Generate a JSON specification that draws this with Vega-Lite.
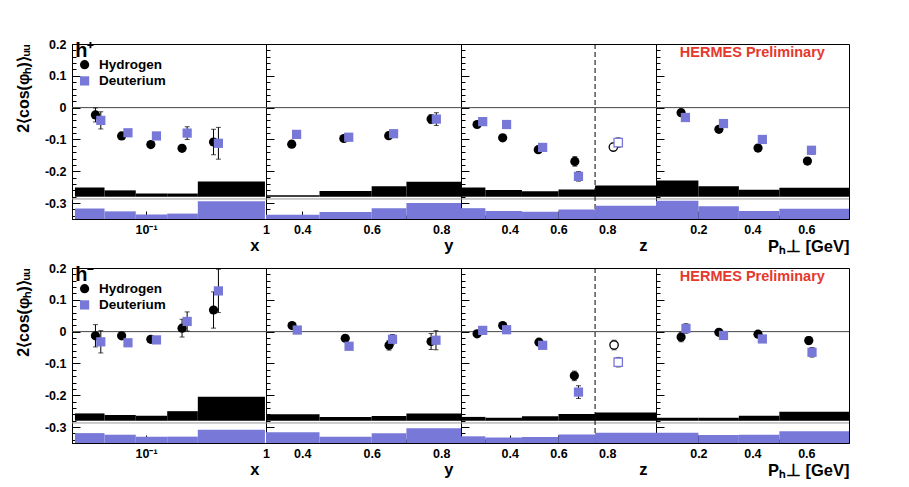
{
"$schema": "https://vega.github.io/schema/vega-lite/v6.json",
"background": "white",
"padding": {"left": 14, "top": 37, "right": 0, "bottom": 0},
"autosize": {"type": "pad"},
"columns": 4,
"spacing": {"row": 49, "column": 0},
"bounds": "flush",
"datasets": {"d": [
{"k":"ref","v":"x","h":"h+"},{"k":"ref","v":"x","h":"h-"},{"k":"ref","v":"y","h":"h+"},{"k":"ref","v":"y","h":"h-"},
{"k":"ref","v":"z","h":"h+"},{"k":"ref","v":"z","h":"h-"},{"k":"ref","v":"p","h":"h+"},{"k":"ref","v":"p","h":"h-"},
{"k":"hl","v":"x","h":"h+","x":0.0256,"y":0.178,"text":"h⁺"},
{"k":"hl","v":"x","h":"h-","x":0.0256,"y":0.178,"text":"h⁻"},
{"k":"leg","v":"x","h":"h+","t":"Hydrogen","x":0.0307,"tx":0.0405,"y":0.135,"text":"Hydrogen"},
{"k":"leg","v":"x","h":"h+","t":"Deuterium","x":0.0307,"tx":0.0405,"y":0.084,"text":"Deuterium"},
{"k":"leg","v":"x","h":"h-","t":"Hydrogen","x":0.0307,"tx":0.0405,"y":0.135,"text":"Hydrogen"},
{"k":"leg","v":"x","h":"h-","t":"Deuterium","x":0.0307,"tx":0.0405,"y":0.084,"text":"Deuterium"},
{"k":"herm","v":"p","h":"h+","x":0.4,"y":0.173,"text":"HERMES Preliminary"},
{"k":"herm","v":"p","h":"h-","x":0.4,"y":0.173,"text":"HERMES Preliminary"},
{"k":"pt","v":"x","h":"h+","t":"Hydrogen","x":0.0378,"y":-0.023,"e":0.022,"o":false},
{"k":"pt","v":"x","h":"h+","t":"Hydrogen","x":0.0625,"y":-0.089,"e":0.006,"o":false},
{"k":"pt","v":"x","h":"h+","t":"Hydrogen","x":0.1095,"y":-0.116,"e":0.006,"o":false},
{"k":"pt","v":"x","h":"h+","t":"Hydrogen","x":0.1995,"y":-0.128,"e":0.008,"o":false},
{"k":"pt","v":"x","h":"h+","t":"Hydrogen","x":0.365,"y":-0.108,"e":0.04,"o":false},
{"k":"pt","v":"x","h":"h+","t":"Deuterium","x":0.0419,"y":-0.04,"e":0.027,"o":false},
{"k":"pt","v":"x","h":"h+","t":"Deuterium","x":0.0706,"y":-0.079,"e":0.006,"o":false},
{"k":"pt","v":"x","h":"h+","t":"Deuterium","x":0.122,"y":-0.089,"e":0.007,"o":false},
{"k":"pt","v":"x","h":"h+","t":"Deuterium","x":0.22,"y":-0.08,"e":0.02,"o":false},
{"k":"pt","v":"x","h":"h+","t":"Deuterium","x":0.401,"y":-0.112,"e":0.05,"o":false},
{"k":"pt","v":"y","h":"h+","t":"Hydrogen","x":0.37,"y":-0.115,"e":0.006,"o":false},
{"k":"pt","v":"y","h":"h+","t":"Hydrogen","x":0.52,"y":-0.097,"e":0.006,"o":false},
{"k":"pt","v":"y","h":"h+","t":"Hydrogen","x":0.649,"y":-0.088,"e":0.007,"o":false},
{"k":"pt","v":"y","h":"h+","t":"Hydrogen","x":0.771,"y":-0.036,"e":0.014,"o":false},
{"k":"pt","v":"y","h":"h+","t":"Deuterium","x":0.384,"y":-0.084,"e":0.006,"o":false},
{"k":"pt","v":"y","h":"h+","t":"Deuterium","x":0.534,"y":-0.093,"e":0.006,"o":false},
{"k":"pt","v":"y","h":"h+","t":"Deuterium","x":0.663,"y":-0.082,"e":0.008,"o":false},
{"k":"pt","v":"y","h":"h+","t":"Deuterium","x":0.786,"y":-0.036,"e":0.02,"o":false},
{"k":"pt","v":"z","h":"h+","t":"Hydrogen","x":0.266,"y":-0.053,"e":0.006,"o":false},
{"k":"pt","v":"z","h":"h+","t":"Hydrogen","x":0.371,"y":-0.095,"e":0.006,"o":false},
{"k":"pt","v":"z","h":"h+","t":"Hydrogen","x":0.517,"y":-0.132,"e":0.008,"o":false},
{"k":"pt","v":"z","h":"h+","t":"Hydrogen","x":0.667,"y":-0.169,"e":0.015,"o":false},
{"k":"pt","v":"z","h":"h+","t":"Hydrogen","x":0.825,"y":-0.124,"e":0.012,"o":true},
{"k":"pt","v":"z","h":"h+","t":"Deuterium","x":0.289,"y":-0.044,"e":0.006,"o":false},
{"k":"pt","v":"z","h":"h+","t":"Deuterium","x":0.387,"y":-0.053,"e":0.006,"o":false},
{"k":"pt","v":"z","h":"h+","t":"Deuterium","x":0.535,"y":-0.125,"e":0.008,"o":false},
{"k":"pt","v":"z","h":"h+","t":"Deuterium","x":0.682,"y":-0.216,"e":0.015,"o":false},
{"k":"pt","v":"z","h":"h+","t":"Deuterium","x":0.845,"y":-0.11,"e":0.015,"o":true},
{"k":"pt","v":"p","h":"h+","t":"Hydrogen","x":0.136,"y":-0.016,"e":0.007,"o":false},
{"k":"pt","v":"p","h":"h+","t":"Hydrogen","x":0.276,"y":-0.068,"e":0.006,"o":false},
{"k":"pt","v":"p","h":"h+","t":"Hydrogen","x":0.421,"y":-0.127,"e":0.007,"o":false},
{"k":"pt","v":"p","h":"h+","t":"Hydrogen","x":0.604,"y":-0.168,"e":0.01,"o":false},
{"k":"pt","v":"p","h":"h+","t":"Deuterium","x":0.152,"y":-0.031,"e":0.008,"o":false},
{"k":"pt","v":"p","h":"h+","t":"Deuterium","x":0.293,"y":-0.05,"e":0.006,"o":false},
{"k":"pt","v":"p","h":"h+","t":"Deuterium","x":0.437,"y":-0.1,"e":0.007,"o":false},
{"k":"pt","v":"p","h":"h+","t":"Deuterium","x":0.619,"y":-0.134,"e":0.012,"o":false},
{"k":"pt","v":"x","h":"h-","t":"Hydrogen","x":0.0378,"y":-0.013,"e":0.035,"o":false},
{"k":"pt","v":"x","h":"h-","t":"Hydrogen","x":0.0625,"y":-0.013,"e":0.007,"o":false},
{"k":"pt","v":"x","h":"h-","t":"Hydrogen","x":0.1095,"y":-0.024,"e":0.007,"o":false},
{"k":"pt","v":"x","h":"h-","t":"Hydrogen","x":0.1995,"y":0.011,"e":0.028,"o":false},
{"k":"pt","v":"x","h":"h-","t":"Hydrogen","x":0.365,"y":0.068,"e":0.057,"o":false},
{"k":"pt","v":"x","h":"h-","t":"Deuterium","x":0.0419,"y":-0.032,"e":0.035,"o":false},
{"k":"pt","v":"x","h":"h-","t":"Deuterium","x":0.0706,"y":-0.035,"e":0.007,"o":false},
{"k":"pt","v":"x","h":"h-","t":"Deuterium","x":0.122,"y":-0.026,"e":0.008,"o":false},
{"k":"pt","v":"x","h":"h-","t":"Deuterium","x":0.22,"y":0.032,"e":0.03,"o":false},
{"k":"pt","v":"x","h":"h-","t":"Deuterium","x":0.401,"y":0.128,"e":0.068,"o":false},
{"k":"pt","v":"y","h":"h-","t":"Hydrogen","x":0.371,"y":0.019,"e":0.006,"o":false},
{"k":"pt","v":"y","h":"h-","t":"Hydrogen","x":0.524,"y":-0.021,"e":0.007,"o":false},
{"k":"pt","v":"y","h":"h-","t":"Hydrogen","x":0.65,"y":-0.043,"e":0.015,"o":false},
{"k":"pt","v":"y","h":"h-","t":"Hydrogen","x":0.771,"y":-0.031,"e":0.025,"o":false},
{"k":"pt","v":"y","h":"h-","t":"Deuterium","x":0.386,"y":0.005,"e":0.006,"o":false},
{"k":"pt","v":"y","h":"h-","t":"Deuterium","x":0.535,"y":-0.046,"e":0.007,"o":false},
{"k":"pt","v":"y","h":"h-","t":"Deuterium","x":0.66,"y":-0.024,"e":0.015,"o":false},
{"k":"pt","v":"y","h":"h-","t":"Deuterium","x":0.785,"y":-0.027,"e":0.03,"o":false},
{"k":"pt","v":"z","h":"h-","t":"Hydrogen","x":0.266,"y":-0.007,"e":0.006,"o":false},
{"k":"pt","v":"z","h":"h-","t":"Hydrogen","x":0.371,"y":0.019,"e":0.006,"o":false},
{"k":"pt","v":"z","h":"h-","t":"Hydrogen","x":0.52,"y":-0.033,"e":0.008,"o":false},
{"k":"pt","v":"z","h":"h-","t":"Hydrogen","x":0.665,"y":-0.139,"e":0.015,"o":false},
{"k":"pt","v":"z","h":"h-","t":"Hydrogen","x":0.828,"y":-0.042,"e":0.015,"o":true},
{"k":"pt","v":"z","h":"h-","t":"Deuterium","x":0.289,"y":0.004,"e":0.006,"o":false},
{"k":"pt","v":"z","h":"h-","t":"Deuterium","x":0.387,"y":0.006,"e":0.006,"o":false},
{"k":"pt","v":"z","h":"h-","t":"Deuterium","x":0.535,"y":-0.043,"e":0.008,"o":false},
{"k":"pt","v":"z","h":"h-","t":"Deuterium","x":0.682,"y":-0.19,"e":0.02,"o":false},
{"k":"pt","v":"z","h":"h-","t":"Deuterium","x":0.845,"y":-0.096,"e":0.015,"o":true},
{"k":"pt","v":"p","h":"h-","t":"Hydrogen","x":0.136,"y":-0.017,"e":0.015,"o":false},
{"k":"pt","v":"p","h":"h-","t":"Hydrogen","x":0.276,"y":-0.002,"e":0.008,"o":false},
{"k":"pt","v":"p","h":"h-","t":"Hydrogen","x":0.421,"y":-0.008,"e":0.008,"o":false},
{"k":"pt","v":"p","h":"h-","t":"Hydrogen","x":0.609,"y":-0.028,"e":0.012,"o":false},
{"k":"pt","v":"p","h":"h-","t":"Deuterium","x":0.154,"y":0.01,"e":0.015,"o":false},
{"k":"pt","v":"p","h":"h-","t":"Deuterium","x":0.293,"y":-0.012,"e":0.008,"o":false},
{"k":"pt","v":"p","h":"h-","t":"Deuterium","x":0.437,"y":-0.023,"e":0.008,"o":false},
{"k":"pt","v":"p","h":"h-","t":"Deuterium","x":0.621,"y":-0.065,"e":0.015,"o":false},
{"k":"sys","v":"x","h":"h+","t":"Hydrogen","x":0.0255,"x2":0.045,"y":-0.28,"y2":-0.251},
{"k":"sys","v":"x","h":"h+","t":"Hydrogen","x":0.045,"x2":0.082,"y":-0.28,"y2":-0.26},
{"k":"sys","v":"x","h":"h+","t":"Hydrogen","x":0.082,"x2":0.15,"y":-0.28,"y2":-0.27},
{"k":"sys","v":"x","h":"h+","t":"Hydrogen","x":0.15,"x2":0.27,"y":-0.28,"y2":-0.27},
{"k":"sys","v":"x","h":"h+","t":"Hydrogen","x":0.27,"x2":0.98,"y":-0.28,"y2":-0.232},
{"k":"sys","v":"x","h":"h+","t":"Deuterium","x":0.0255,"x2":0.045,"y":-0.35,"y2":-0.317},
{"k":"sys","v":"x","h":"h+","t":"Deuterium","x":0.045,"x2":0.082,"y":-0.35,"y2":-0.326},
{"k":"sys","v":"x","h":"h+","t":"Deuterium","x":0.082,"x2":0.15,"y":-0.35,"y2":-0.336},
{"k":"sys","v":"x","h":"h+","t":"Deuterium","x":0.15,"x2":0.27,"y":-0.35,"y2":-0.333},
{"k":"sys","v":"x","h":"h+","t":"Deuterium","x":0.27,"x2":0.98,"y":-0.35,"y2":-0.294},
{"k":"sys","v":"y","h":"h+","t":"Hydrogen","x":0.296,"x2":0.45,"y":-0.28,"y2":-0.275},
{"k":"sys","v":"y","h":"h+","t":"Hydrogen","x":0.45,"x2":0.6,"y":-0.28,"y2":-0.262},
{"k":"sys","v":"y","h":"h+","t":"Hydrogen","x":0.6,"x2":0.7,"y":-0.28,"y2":-0.247},
{"k":"sys","v":"y","h":"h+","t":"Hydrogen","x":0.7,"x2":0.857,"y":-0.28,"y2":-0.233},
{"k":"sys","v":"y","h":"h+","t":"Deuterium","x":0.296,"x2":0.45,"y":-0.35,"y2":-0.337},
{"k":"sys","v":"y","h":"h+","t":"Deuterium","x":0.45,"x2":0.6,"y":-0.35,"y2":-0.328},
{"k":"sys","v":"y","h":"h+","t":"Deuterium","x":0.6,"x2":0.7,"y":-0.35,"y2":-0.316},
{"k":"sys","v":"y","h":"h+","t":"Deuterium","x":0.7,"x2":0.857,"y":-0.35,"y2":-0.3},
{"k":"sys","v":"z","h":"h+","t":"Hydrogen","x":0.2,"x2":0.3,"y":-0.28,"y2":-0.251},
{"k":"sys","v":"z","h":"h+","t":"Hydrogen","x":0.3,"x2":0.45,"y":-0.28,"y2":-0.259},
{"k":"sys","v":"z","h":"h+","t":"Hydrogen","x":0.45,"x2":0.6,"y":-0.28,"y2":-0.263},
{"k":"sys","v":"z","h":"h+","t":"Hydrogen","x":0.6,"x2":0.75,"y":-0.28,"y2":-0.257},
{"k":"sys","v":"z","h":"h+","t":"Hydrogen","x":0.75,"x2":1.0,"y":-0.28,"y2":-0.245},
{"k":"sys","v":"z","h":"h+","t":"Deuterium","x":0.2,"x2":0.3,"y":-0.35,"y2":-0.316},
{"k":"sys","v":"z","h":"h+","t":"Deuterium","x":0.3,"x2":0.45,"y":-0.35,"y2":-0.325},
{"k":"sys","v":"z","h":"h+","t":"Deuterium","x":0.45,"x2":0.6,"y":-0.35,"y2":-0.327},
{"k":"sys","v":"z","h":"h+","t":"Deuterium","x":0.6,"x2":0.75,"y":-0.35,"y2":-0.32},
{"k":"sys","v":"z","h":"h+","t":"Deuterium","x":0.75,"x2":1.0,"y":-0.35,"y2":-0.308},
{"k":"sys","v":"p","h":"h+","t":"Hydrogen","x":0.043,"x2":0.2,"y":-0.28,"y2":-0.229},
{"k":"sys","v":"p","h":"h+","t":"Hydrogen","x":0.2,"x2":0.35,"y":-0.28,"y2":-0.247},
{"k":"sys","v":"p","h":"h+","t":"Hydrogen","x":0.35,"x2":0.5,"y":-0.28,"y2":-0.258},
{"k":"sys","v":"p","h":"h+","t":"Hydrogen","x":0.5,"x2":0.758,"y":-0.28,"y2":-0.252},
{"k":"sys","v":"p","h":"h+","t":"Deuterium","x":0.043,"x2":0.2,"y":-0.35,"y2":-0.293},
{"k":"sys","v":"p","h":"h+","t":"Deuterium","x":0.2,"x2":0.35,"y":-0.35,"y2":-0.31},
{"k":"sys","v":"p","h":"h+","t":"Deuterium","x":0.35,"x2":0.5,"y":-0.35,"y2":-0.325},
{"k":"sys","v":"p","h":"h+","t":"Deuterium","x":0.5,"x2":0.758,"y":-0.35,"y2":-0.318},
{"k":"sys","v":"x","h":"h-","t":"Hydrogen","x":0.0255,"x2":0.045,"y":-0.28,"y2":-0.257},
{"k":"sys","v":"x","h":"h-","t":"Hydrogen","x":0.045,"x2":0.082,"y":-0.28,"y2":-0.262},
{"k":"sys","v":"x","h":"h-","t":"Hydrogen","x":0.082,"x2":0.15,"y":-0.28,"y2":-0.264},
{"k":"sys","v":"x","h":"h-","t":"Hydrogen","x":0.15,"x2":0.27,"y":-0.28,"y2":-0.25},
{"k":"sys","v":"x","h":"h-","t":"Hydrogen","x":0.27,"x2":0.98,"y":-0.28,"y2":-0.205},
{"k":"sys","v":"x","h":"h-","t":"Deuterium","x":0.0255,"x2":0.045,"y":-0.35,"y2":-0.319},
{"k":"sys","v":"x","h":"h-","t":"Deuterium","x":0.045,"x2":0.082,"y":-0.35,"y2":-0.324},
{"k":"sys","v":"x","h":"h-","t":"Deuterium","x":0.082,"x2":0.15,"y":-0.35,"y2":-0.33},
{"k":"sys","v":"x","h":"h-","t":"Deuterium","x":0.15,"x2":0.27,"y":-0.35,"y2":-0.33},
{"k":"sys","v":"x","h":"h-","t":"Deuterium","x":0.27,"x2":0.98,"y":-0.35,"y2":-0.308},
{"k":"sys","v":"y","h":"h-","t":"Hydrogen","x":0.296,"x2":0.45,"y":-0.28,"y2":-0.26},
{"k":"sys","v":"y","h":"h-","t":"Hydrogen","x":0.45,"x2":0.6,"y":-0.28,"y2":-0.268},
{"k":"sys","v":"y","h":"h-","t":"Hydrogen","x":0.6,"x2":0.7,"y":-0.28,"y2":-0.265},
{"k":"sys","v":"y","h":"h-","t":"Hydrogen","x":0.7,"x2":0.857,"y":-0.28,"y2":-0.257},
{"k":"sys","v":"y","h":"h-","t":"Deuterium","x":0.296,"x2":0.45,"y":-0.35,"y2":-0.316},
{"k":"sys","v":"y","h":"h-","t":"Deuterium","x":0.45,"x2":0.6,"y":-0.35,"y2":-0.33},
{"k":"sys","v":"y","h":"h-","t":"Deuterium","x":0.6,"x2":0.7,"y":-0.35,"y2":-0.319},
{"k":"sys","v":"y","h":"h-","t":"Deuterium","x":0.7,"x2":0.857,"y":-0.35,"y2":-0.304},
{"k":"sys","v":"z","h":"h-","t":"Hydrogen","x":0.2,"x2":0.3,"y":-0.28,"y2":-0.268},
{"k":"sys","v":"z","h":"h-","t":"Hydrogen","x":0.3,"x2":0.45,"y":-0.28,"y2":-0.271},
{"k":"sys","v":"z","h":"h-","t":"Hydrogen","x":0.45,"x2":0.6,"y":-0.28,"y2":-0.266},
{"k":"sys","v":"z","h":"h-","t":"Hydrogen","x":0.6,"x2":0.75,"y":-0.28,"y2":-0.259},
{"k":"sys","v":"z","h":"h-","t":"Hydrogen","x":0.75,"x2":1.0,"y":-0.28,"y2":-0.254},
{"k":"sys","v":"z","h":"h-","t":"Deuterium","x":0.2,"x2":0.3,"y":-0.35,"y2":-0.329},
{"k":"sys","v":"z","h":"h-","t":"Deuterium","x":0.3,"x2":0.45,"y":-0.35,"y2":-0.333},
{"k":"sys","v":"z","h":"h-","t":"Deuterium","x":0.45,"x2":0.6,"y":-0.35,"y2":-0.331},
{"k":"sys","v":"z","h":"h-","t":"Deuterium","x":0.6,"x2":0.75,"y":-0.35,"y2":-0.323},
{"k":"sys","v":"z","h":"h-","t":"Deuterium","x":0.75,"x2":1.0,"y":-0.35,"y2":-0.318},
{"k":"sys","v":"p","h":"h-","t":"Hydrogen","x":0.043,"x2":0.2,"y":-0.28,"y2":-0.271},
{"k":"sys","v":"p","h":"h-","t":"Hydrogen","x":0.2,"x2":0.35,"y":-0.28,"y2":-0.271},
{"k":"sys","v":"p","h":"h-","t":"Hydrogen","x":0.35,"x2":0.5,"y":-0.28,"y2":-0.264},
{"k":"sys","v":"p","h":"h-","t":"Hydrogen","x":0.5,"x2":0.758,"y":-0.28,"y2":-0.252},
{"k":"sys","v":"p","h":"h-","t":"Deuterium","x":0.043,"x2":0.2,"y":-0.35,"y2":-0.318},
{"k":"sys","v":"p","h":"h-","t":"Deuterium","x":0.2,"x2":0.35,"y":-0.35,"y2":-0.325},
{"k":"sys","v":"p","h":"h-","t":"Deuterium","x":0.35,"x2":0.5,"y":-0.35,"y2":-0.324},
{"k":"sys","v":"p","h":"h-","t":"Deuterium","x":0.5,"x2":0.758,"y":-0.35,"y2":-0.313}
]},
"concat": [
{
 "data": {"name": "d"}, "width": 194, "height": 175,
 "transform": [{"filter": "datum.v === 'x' && datum.h === 'h+'"}],
 "layer": [
  {"transform": [{"filter": "datum.k === 'ref'"}], "mark": {"type": "rule", "color": "#444", "strokeWidth": 1}, "encoding": {"y": {"datum": 0}}},
  {"transform": [{"filter": "datum.k === 'ref'"}], "mark": {"type": "rule", "color": "#999", "strokeWidth": 1}, "encoding": {"y": {"datum": -0.287}}},
  {"transform": [{"filter": "datum.k === 'sys'"}], "mark": {"type": "rect"},
   "encoding": {
    "x": {"field": "x", "type": "quantitative", "scale": {"type": "log", "domain": [0.0241, 1], "nice": false},
      "axis": {"title": "x", "titleX": 187, "titleY": 31, "titleAlign": "right", "titleBaseline": "alphabetic", "titleFontSize": 16.5, "tickCount": 100,
        "values": [0.03,0.04,0.05,0.06,0.07,0.08,0.09,0.1,0.2,0.3,0.4,0.5,0.6,0.7,0.8,0.9,1],
        "labelExpr": "datum.value == 0.1 ? '10⁻¹' : (datum.value == 1 ? '1' : '')",
        "tickSize": {"condition": {"test": "datum.value == 0.1 || datum.value == 1", "value": -8}, "value": -4}, "labelPadding": 12, "labelOverlap": false}},
    "x2": {"field": "x2"},
    "y": {"field": "y", "type": "quantitative", "scale": {"domain": [-0.35, 0.2], "nice": false, "zero": false},
      "axis": {"title": "2⟨cos(φₕ)⟩ᵤᵤ", "titleFontSize": 16, "titleAnchor": "end", "titlePadding": 13, "tickCount": 100,
        "values": [-0.34,-0.32,-0.3,-0.28,-0.26,-0.24,-0.22,-0.2,-0.18,-0.16,-0.14,-0.12,-0.1,-0.08,-0.06,-0.04,-0.02,0,0.02,0.04,0.06,0.08,0.1,0.12,0.14,0.16,0.18,0.2],
        "labelExpr": "abs(datum.value*10 - round(datum.value*10)) < 0.001 ? replace(format(datum.value, '.1~f'), '−', '-') : ''",
        "tickSize": {"condition": {"test": "abs(datum.value*10 - round(datum.value*10)) < 0.001", "value": -8}, "value": -4}, "labelPadding": 14, "labelOverlap": false}},
    "y2": {"field": "y2"},
    "color": {"field": "t", "type": "nominal", "scale": {"domain": ["Hydrogen", "Deuterium"], "range": ["black", "#7878d8"]}, "legend": null}}},
  {"transform": [{"filter": "datum.k === 'pt'"}, {"calculate": "datum.y - datum.e", "as": "lo"}, {"calculate": "datum.y + datum.e", "as": "hi"}],
   "mark": {"type": "rule", "color": "black", "strokeWidth": 1},
   "encoding": {"x": {"field": "x", "type": "quantitative"}, "y": {"field": "lo", "type": "quantitative"}, "y2": {"field": "hi"}}},
  {"transform": [{"filter": "datum.k === 'pt'"}, {"calculate": "datum.y - datum.e", "as": "lo"}, {"calculate": "datum.y + datum.e", "as": "hi"}, {"fold": ["lo", "hi"], "as": ["end", "ev"]}],
   "mark": {"type": "tick", "color": "black", "thickness": 1, "size": 5, "orient": "horizontal"},
   "encoding": {"x": {"field": "x", "type": "quantitative"}, "y": {"field": "ev", "type": "quantitative"}}},
  {"transform": [{"filter": "datum.k === 'pt'"}], "mark": {"type": "point", "filled": true, "size": 85, "opacity": 1},
   "encoding": {"x": {"field": "x", "type": "quantitative"}, "y": {"field": "y", "type": "quantitative"},
    "color": {"field": "t", "type": "nominal", "legend": null},
    "shape": {"field": "t", "type": "nominal", "scale": {"domain": ["Hydrogen", "Deuterium"], "range": ["circle", "square"]}, "legend": null}}},
  {"transform": [{"filter": "datum.k === 'leg'"}], "mark": {"type": "point", "filled": true, "size": 85, "opacity": 1},
   "encoding": {"x": {"field": "x", "type": "quantitative"}, "y": {"field": "y", "type": "quantitative"},
    "color": {"field": "t", "type": "nominal", "legend": null}, "shape": {"field": "t", "type": "nominal", "legend": null}}},
  {"transform": [{"filter": "datum.k === 'leg'"}], "mark": {"type": "text", "align": "left", "baseline": "middle", "font": "Liberation Sans", "fontWeight": "bold", "fontSize": 13.5, "color": "black"},
   "encoding": {"x": {"field": "tx", "type": "quantitative"}, "y": {"field": "y", "type": "quantitative"}, "text": {"field": "text"}}},
  {"transform": [{"filter": "datum.k === 'hl'"}], "mark": {"type": "text", "align": "left", "baseline": "middle", "font": "Liberation Sans", "fontWeight": "bold", "fontSize": 20, "color": "black"},
   "encoding": {"x": {"field": "x", "type": "quantitative"}, "y": {"field": "y", "type": "quantitative"}, "text": {"field": "text"}}}
 ]
},
{
 "data": {"name": "d"}, "width": 195, "height": 175,
 "transform": [{"filter": "datum.v === 'y' && datum.h === 'h+'"}],
 "layer": [
  {"transform": [{"filter": "datum.k === 'ref'"}], "mark": {"type": "rule", "color": "#444", "strokeWidth": 1}, "encoding": {"y": {"datum": 0}}},
  {"transform": [{"filter": "datum.k === 'ref'"}], "mark": {"type": "rule", "color": "#999", "strokeWidth": 1}, "encoding": {"y": {"datum": -0.287}}},
  {"transform": [{"filter": "datum.k === 'sys'"}], "mark": {"type": "rect"},
   "encoding": {
    "x": {"field": "x", "type": "quantitative", "scale": {"domain": [0.296, 0.857], "nice": false, "zero": false},
      "axis": {"title": "y", "titleX": 187, "titleY": 31, "titleAlign": "right", "titleBaseline": "alphabetic", "titleFontSize": 16.5, "tickCount": 100,
        "values": [0.3,0.35,0.4,0.45,0.5,0.55,0.6,0.65,0.7,0.75,0.8,0.85],
        "labelExpr": "(abs(datum.value-0.4)<0.001 || abs(datum.value-0.6)<0.001 || abs(datum.value-0.8)<0.001) ? format(datum.value, '.1f') : ''",
        "tickSize": {"condition": {"test": "abs(datum.value-0.4)<0.001 || abs(datum.value-0.6)<0.001 || abs(datum.value-0.8)<0.001", "value": -8}, "value": -4}, "labelPadding": 12, "labelOverlap": false}},
    "x2": {"field": "x2"},
    "y": {"field": "y", "type": "quantitative", "scale": {"domain": [-0.35, 0.2], "nice": false, "zero": false},
      "axis": {"title": null, "labels": false, "tickCount": 100,
        "values": [-0.34,-0.32,-0.3,-0.28,-0.26,-0.24,-0.22,-0.2,-0.18,-0.16,-0.14,-0.12,-0.1,-0.08,-0.06,-0.04,-0.02,0,0.02,0.04,0.06,0.08,0.1,0.12,0.14,0.16,0.18,0.2],
        "tickSize": {"condition": {"test": "abs(datum.value*10 - round(datum.value*10)) < 0.001", "value": -8}, "value": -4}}},
    "y2": {"field": "y2"},
    "color": {"field": "t", "type": "nominal", "scale": {"domain": ["Hydrogen", "Deuterium"], "range": ["black", "#7878d8"]}, "legend": null}}},
  {"transform": [{"filter": "datum.k === 'pt'"}, {"calculate": "datum.y - datum.e", "as": "lo"}, {"calculate": "datum.y + datum.e", "as": "hi"}],
   "mark": {"type": "rule", "color": "black", "strokeWidth": 1},
   "encoding": {"x": {"field": "x", "type": "quantitative"}, "y": {"field": "lo", "type": "quantitative"}, "y2": {"field": "hi"}}},
  {"transform": [{"filter": "datum.k === 'pt'"}, {"calculate": "datum.y - datum.e", "as": "lo"}, {"calculate": "datum.y + datum.e", "as": "hi"}, {"fold": ["lo", "hi"], "as": ["end", "ev"]}],
   "mark": {"type": "tick", "color": "black", "thickness": 1, "size": 5, "orient": "horizontal"},
   "encoding": {"x": {"field": "x", "type": "quantitative"}, "y": {"field": "ev", "type": "quantitative"}}},
  {"transform": [{"filter": "datum.k === 'pt'"}], "mark": {"type": "point", "filled": true, "size": 85, "opacity": 1},
   "encoding": {"x": {"field": "x", "type": "quantitative"}, "y": {"field": "y", "type": "quantitative"},
    "color": {"field": "t", "type": "nominal", "legend": null},
    "shape": {"field": "t", "type": "nominal", "scale": {"domain": ["Hydrogen", "Deuterium"], "range": ["circle", "square"]}, "legend": null}}}
 ]
},
{
 "data": {"name": "d"}, "width": 195, "height": 175,
 "transform": [{"filter": "datum.v === 'z' && datum.h === 'h+'"}],
 "layer": [
  {"transform": [{"filter": "datum.k === 'ref'"}], "mark": {"type": "rule", "color": "#444", "strokeWidth": 1}, "encoding": {"y": {"datum": 0}}},
  {"transform": [{"filter": "datum.k === 'ref'"}], "mark": {"type": "rule", "color": "#999", "strokeWidth": 1}, "encoding": {"y": {"datum": -0.287}}},
  {"transform": [{"filter": "datum.k === 'ref'"}], "mark": {"type": "rule", "color": "black", "strokeWidth": 1, "strokeDash": [5, 3]}, "encoding": {"x": {"datum": 0.75}}},
  {"transform": [{"filter": "datum.k === 'sys'"}], "mark": {"type": "rect"},
   "encoding": {
    "x": {"field": "x", "type": "quantitative", "scale": {"domain": [0.2, 1.0], "nice": false, "zero": false},
      "axis": {"title": "z", "titleX": 186, "titleY": 31, "titleAlign": "right", "titleBaseline": "alphabetic", "titleFontSize": 16.5, "tickCount": 100,
        "values": [0.2,0.25,0.3,0.35,0.4,0.45,0.5,0.55,0.6,0.65,0.7,0.75,0.8,0.85,0.9,0.95,1.0],
        "labelExpr": "(abs(datum.value-0.4)<0.001 || abs(datum.value-0.6)<0.001 || abs(datum.value-0.8)<0.001) ? format(datum.value, '.1f') : ''",
        "tickSize": {"condition": {"test": "abs(datum.value-0.4)<0.001 || abs(datum.value-0.6)<0.001 || abs(datum.value-0.8)<0.001", "value": -8}, "value": -4}, "labelPadding": 12, "labelOverlap": false}},
    "x2": {"field": "x2"},
    "y": {"field": "y", "type": "quantitative", "scale": {"domain": [-0.35, 0.2], "nice": false, "zero": false},
      "axis": {"title": null, "labels": false, "tickCount": 100,
        "values": [-0.34,-0.32,-0.3,-0.28,-0.26,-0.24,-0.22,-0.2,-0.18,-0.16,-0.14,-0.12,-0.1,-0.08,-0.06,-0.04,-0.02,0,0.02,0.04,0.06,0.08,0.1,0.12,0.14,0.16,0.18,0.2],
        "tickSize": {"condition": {"test": "abs(datum.value*10 - round(datum.value*10)) < 0.001", "value": -8}, "value": -4}}},
    "y2": {"field": "y2"},
    "color": {"field": "t", "type": "nominal", "scale": {"domain": ["Hydrogen", "Deuterium"], "range": ["black", "#7878d8"]}, "legend": null}}},
  {"transform": [{"filter": "datum.k === 'pt'"}, {"calculate": "datum.y - datum.e", "as": "lo"}, {"calculate": "datum.y + datum.e", "as": "hi"}],
   "mark": {"type": "rule", "color": "black", "strokeWidth": 1},
   "encoding": {"x": {"field": "x", "type": "quantitative"}, "y": {"field": "lo", "type": "quantitative"}, "y2": {"field": "hi"}}},
  {"transform": [{"filter": "datum.k === 'pt'"}, {"calculate": "datum.y - datum.e", "as": "lo"}, {"calculate": "datum.y + datum.e", "as": "hi"}, {"fold": ["lo", "hi"], "as": ["end", "ev"]}],
   "mark": {"type": "tick", "color": "black", "thickness": 1, "size": 5, "orient": "horizontal"},
   "encoding": {"x": {"field": "x", "type": "quantitative"}, "y": {"field": "ev", "type": "quantitative"}}},
  {"transform": [{"filter": "datum.k === 'pt' && !datum.o"}], "mark": {"type": "point", "filled": true, "size": 85, "opacity": 1},
   "encoding": {"x": {"field": "x", "type": "quantitative"}, "y": {"field": "y", "type": "quantitative"},
    "color": {"field": "t", "type": "nominal", "legend": null},
    "shape": {"field": "t", "type": "nominal", "scale": {"domain": ["Hydrogen", "Deuterium"], "range": ["circle", "square"]}, "legend": null}}},
  {"transform": [{"filter": "datum.k === 'pt' && datum.o"}], "mark": {"type": "point", "filled": false, "fill": "white", "size": 70, "strokeWidth": 1.3, "opacity": 1},
   "encoding": {"x": {"field": "x", "type": "quantitative"}, "y": {"field": "y", "type": "quantitative"},
    "color": {"field": "t", "type": "nominal", "legend": null}, "shape": {"field": "t", "type": "nominal", "legend": null}}}
 ]
},
{
 "data": {"name": "d"}, "width": 193, "height": 175,
 "transform": [{"filter": "datum.v === 'p' && datum.h === 'h+'"}],
 "layer": [
  {"transform": [{"filter": "datum.k === 'ref'"}], "mark": {"type": "rule", "color": "#444", "strokeWidth": 1}, "encoding": {"y": {"datum": 0}}},
  {"transform": [{"filter": "datum.k === 'ref'"}], "mark": {"type": "rule", "color": "#999", "strokeWidth": 1}, "encoding": {"y": {"datum": -0.287}}},
  {"transform": [{"filter": "datum.k === 'sys'"}], "mark": {"type": "rect"},
   "encoding": {
    "x": {"field": "x", "type": "quantitative", "scale": {"domain": [0.043, 0.758], "nice": false, "zero": false},
      "axis": {"title": "Pₕ⊥ [GeV]", "titleX": 193, "titleY": 32, "titleAlign": "right", "titleBaseline": "alphabetic", "titleFontSize": 16.5, "tickCount": 100,
        "values": [0.05,0.1,0.15,0.2,0.25,0.3,0.35,0.4,0.45,0.5,0.55,0.6,0.65,0.7,0.75],
        "labelExpr": "(abs(datum.value-0.2)<0.001 || abs(datum.value-0.4)<0.001 || abs(datum.value-0.6)<0.001) ? format(datum.value, '.1f') : ''",
        "tickSize": {"condition": {"test": "abs(datum.value-0.2)<0.001 || abs(datum.value-0.4)<0.001 || abs(datum.value-0.6)<0.001", "value": -8}, "value": -4}, "labelPadding": 12, "labelOverlap": false}},
    "x2": {"field": "x2"},
    "y": {"field": "y", "type": "quantitative", "scale": {"domain": [-0.35, 0.2], "nice": false, "zero": false},
      "axis": {"title": null, "labels": false, "tickCount": 100,
        "values": [-0.34,-0.32,-0.3,-0.28,-0.26,-0.24,-0.22,-0.2,-0.18,-0.16,-0.14,-0.12,-0.1,-0.08,-0.06,-0.04,-0.02,0,0.02,0.04,0.06,0.08,0.1,0.12,0.14,0.16,0.18,0.2],
        "tickSize": {"condition": {"test": "abs(datum.value*10 - round(datum.value*10)) < 0.001", "value": -8}, "value": -4}}},
    "y2": {"field": "y2"},
    "color": {"field": "t", "type": "nominal", "scale": {"domain": ["Hydrogen", "Deuterium"], "range": ["black", "#7878d8"]}, "legend": null}}},
  {"transform": [{"filter": "datum.k === 'pt'"}, {"calculate": "datum.y - datum.e", "as": "lo"}, {"calculate": "datum.y + datum.e", "as": "hi"}],
   "mark": {"type": "rule", "color": "black", "strokeWidth": 1},
   "encoding": {"x": {"field": "x", "type": "quantitative"}, "y": {"field": "lo", "type": "quantitative"}, "y2": {"field": "hi"}}},
  {"transform": [{"filter": "datum.k === 'pt'"}, {"calculate": "datum.y - datum.e", "as": "lo"}, {"calculate": "datum.y + datum.e", "as": "hi"}, {"fold": ["lo", "hi"], "as": ["end", "ev"]}],
   "mark": {"type": "tick", "color": "black", "thickness": 1, "size": 5, "orient": "horizontal"},
   "encoding": {"x": {"field": "x", "type": "quantitative"}, "y": {"field": "ev", "type": "quantitative"}}},
  {"transform": [{"filter": "datum.k === 'pt'"}], "mark": {"type": "point", "filled": true, "size": 85, "opacity": 1},
   "encoding": {"x": {"field": "x", "type": "quantitative"}, "y": {"field": "y", "type": "quantitative"},
    "color": {"field": "t", "type": "nominal", "legend": null},
    "shape": {"field": "t", "type": "nominal", "scale": {"domain": ["Hydrogen", "Deuterium"], "range": ["circle", "square"]}, "legend": null}}},
  {"transform": [{"filter": "datum.k === 'herm'"}], "mark": {"type": "text", "align": "center", "baseline": "middle", "font": "Liberation Sans", "fontWeight": "bold", "fontSize": 14.5, "color": "#e5382c"},
   "encoding": {"x": {"field": "x", "type": "quantitative"}, "y": {"field": "y", "type": "quantitative"}, "text": {"field": "text"}}}
 ]
},
{
 "data": {"name": "d"}, "width": 194, "height": 175,
 "transform": [{"filter": "datum.v === 'x' && datum.h === 'h-'"}],
 "layer": [
  {"transform": [{"filter": "datum.k === 'ref'"}], "mark": {"type": "rule", "color": "#444", "strokeWidth": 1}, "encoding": {"y": {"datum": 0}}},
  {"transform": [{"filter": "datum.k === 'ref'"}], "mark": {"type": "rule", "color": "#999", "strokeWidth": 1}, "encoding": {"y": {"datum": -0.287}}},
  {"transform": [{"filter": "datum.k === 'sys'"}], "mark": {"type": "rect"},
   "encoding": {
    "x": {"field": "x", "type": "quantitative", "scale": {"type": "log", "domain": [0.0241, 1], "nice": false},
      "axis": {"title": "x", "titleX": 187, "titleY": 31, "titleAlign": "right", "titleBaseline": "alphabetic", "titleFontSize": 16.5, "tickCount": 100,
        "values": [0.03,0.04,0.05,0.06,0.07,0.08,0.09,0.1,0.2,0.3,0.4,0.5,0.6,0.7,0.8,0.9,1],
        "labelExpr": "datum.value == 0.1 ? '10⁻¹' : (datum.value == 1 ? '1' : '')",
        "tickSize": {"condition": {"test": "datum.value == 0.1 || datum.value == 1", "value": -8}, "value": -4}, "labelPadding": 12, "labelOverlap": false}},
    "x2": {"field": "x2"},
    "y": {"field": "y", "type": "quantitative", "scale": {"domain": [-0.35, 0.2], "nice": false, "zero": false},
      "axis": {"title": "2⟨cos(φₕ)⟩ᵤᵤ", "titleFontSize": 16, "titleAnchor": "end", "titlePadding": 13, "tickCount": 100,
        "values": [-0.34,-0.32,-0.3,-0.28,-0.26,-0.24,-0.22,-0.2,-0.18,-0.16,-0.14,-0.12,-0.1,-0.08,-0.06,-0.04,-0.02,0,0.02,0.04,0.06,0.08,0.1,0.12,0.14,0.16,0.18,0.2],
        "labelExpr": "abs(datum.value*10 - round(datum.value*10)) < 0.001 ? replace(format(datum.value, '.1~f'), '−', '-') : ''",
        "tickSize": {"condition": {"test": "abs(datum.value*10 - round(datum.value*10)) < 0.001", "value": -8}, "value": -4}, "labelPadding": 14, "labelOverlap": false}},
    "y2": {"field": "y2"},
    "color": {"field": "t", "type": "nominal", "scale": {"domain": ["Hydrogen", "Deuterium"], "range": ["black", "#7878d8"]}, "legend": null}}},
  {"transform": [{"filter": "datum.k === 'pt'"}, {"calculate": "datum.y - datum.e", "as": "lo"}, {"calculate": "datum.y + datum.e", "as": "hi"}],
   "mark": {"type": "rule", "color": "black", "strokeWidth": 1},
   "encoding": {"x": {"field": "x", "type": "quantitative"}, "y": {"field": "lo", "type": "quantitative"}, "y2": {"field": "hi"}}},
  {"transform": [{"filter": "datum.k === 'pt'"}, {"calculate": "datum.y - datum.e", "as": "lo"}, {"calculate": "datum.y + datum.e", "as": "hi"}, {"fold": ["lo", "hi"], "as": ["end", "ev"]}],
   "mark": {"type": "tick", "color": "black", "thickness": 1, "size": 5, "orient": "horizontal"},
   "encoding": {"x": {"field": "x", "type": "quantitative"}, "y": {"field": "ev", "type": "quantitative"}}},
  {"transform": [{"filter": "datum.k === 'pt'"}], "mark": {"type": "point", "filled": true, "size": 85, "opacity": 1},
   "encoding": {"x": {"field": "x", "type": "quantitative"}, "y": {"field": "y", "type": "quantitative"},
    "color": {"field": "t", "type": "nominal", "legend": null},
    "shape": {"field": "t", "type": "nominal", "scale": {"domain": ["Hydrogen", "Deuterium"], "range": ["circle", "square"]}, "legend": null}}},
  {"transform": [{"filter": "datum.k === 'leg'"}], "mark": {"type": "point", "filled": true, "size": 85, "opacity": 1},
   "encoding": {"x": {"field": "x", "type": "quantitative"}, "y": {"field": "y", "type": "quantitative"},
    "color": {"field": "t", "type": "nominal", "legend": null}, "shape": {"field": "t", "type": "nominal", "legend": null}}},
  {"transform": [{"filter": "datum.k === 'leg'"}], "mark": {"type": "text", "align": "left", "baseline": "middle", "font": "Liberation Sans", "fontWeight": "bold", "fontSize": 13.5, "color": "black"},
   "encoding": {"x": {"field": "tx", "type": "quantitative"}, "y": {"field": "y", "type": "quantitative"}, "text": {"field": "text"}}},
  {"transform": [{"filter": "datum.k === 'hl'"}], "mark": {"type": "text", "align": "left", "baseline": "middle", "font": "Liberation Sans", "fontWeight": "bold", "fontSize": 20, "color": "black"},
   "encoding": {"x": {"field": "x", "type": "quantitative"}, "y": {"field": "y", "type": "quantitative"}, "text": {"field": "text"}}}
 ]
},
{
 "data": {"name": "d"}, "width": 195, "height": 175,
 "transform": [{"filter": "datum.v === 'y' && datum.h === 'h-'"}],
 "layer": [
  {"transform": [{"filter": "datum.k === 'ref'"}], "mark": {"type": "rule", "color": "#444", "strokeWidth": 1}, "encoding": {"y": {"datum": 0}}},
  {"transform": [{"filter": "datum.k === 'ref'"}], "mark": {"type": "rule", "color": "#999", "strokeWidth": 1}, "encoding": {"y": {"datum": -0.287}}},
  {"transform": [{"filter": "datum.k === 'sys'"}], "mark": {"type": "rect"},
   "encoding": {
    "x": {"field": "x", "type": "quantitative", "scale": {"domain": [0.296, 0.857], "nice": false, "zero": false},
      "axis": {"title": "y", "titleX": 187, "titleY": 31, "titleAlign": "right", "titleBaseline": "alphabetic", "titleFontSize": 16.5, "tickCount": 100,
        "values": [0.3,0.35,0.4,0.45,0.5,0.55,0.6,0.65,0.7,0.75,0.8,0.85],
        "labelExpr": "(abs(datum.value-0.4)<0.001 || abs(datum.value-0.6)<0.001 || abs(datum.value-0.8)<0.001) ? format(datum.value, '.1f') : ''",
        "tickSize": {"condition": {"test": "abs(datum.value-0.4)<0.001 || abs(datum.value-0.6)<0.001 || abs(datum.value-0.8)<0.001", "value": -8}, "value": -4}, "labelPadding": 12, "labelOverlap": false}},
    "x2": {"field": "x2"},
    "y": {"field": "y", "type": "quantitative", "scale": {"domain": [-0.35, 0.2], "nice": false, "zero": false},
      "axis": {"title": null, "labels": false, "tickCount": 100,
        "values": [-0.34,-0.32,-0.3,-0.28,-0.26,-0.24,-0.22,-0.2,-0.18,-0.16,-0.14,-0.12,-0.1,-0.08,-0.06,-0.04,-0.02,0,0.02,0.04,0.06,0.08,0.1,0.12,0.14,0.16,0.18,0.2],
        "tickSize": {"condition": {"test": "abs(datum.value*10 - round(datum.value*10)) < 0.001", "value": -8}, "value": -4}}},
    "y2": {"field": "y2"},
    "color": {"field": "t", "type": "nominal", "scale": {"domain": ["Hydrogen", "Deuterium"], "range": ["black", "#7878d8"]}, "legend": null}}},
  {"transform": [{"filter": "datum.k === 'pt'"}, {"calculate": "datum.y - datum.e", "as": "lo"}, {"calculate": "datum.y + datum.e", "as": "hi"}],
   "mark": {"type": "rule", "color": "black", "strokeWidth": 1},
   "encoding": {"x": {"field": "x", "type": "quantitative"}, "y": {"field": "lo", "type": "quantitative"}, "y2": {"field": "hi"}}},
  {"transform": [{"filter": "datum.k === 'pt'"}, {"calculate": "datum.y - datum.e", "as": "lo"}, {"calculate": "datum.y + datum.e", "as": "hi"}, {"fold": ["lo", "hi"], "as": ["end", "ev"]}],
   "mark": {"type": "tick", "color": "black", "thickness": 1, "size": 5, "orient": "horizontal"},
   "encoding": {"x": {"field": "x", "type": "quantitative"}, "y": {"field": "ev", "type": "quantitative"}}},
  {"transform": [{"filter": "datum.k === 'pt'"}], "mark": {"type": "point", "filled": true, "size": 85, "opacity": 1},
   "encoding": {"x": {"field": "x", "type": "quantitative"}, "y": {"field": "y", "type": "quantitative"},
    "color": {"field": "t", "type": "nominal", "legend": null},
    "shape": {"field": "t", "type": "nominal", "scale": {"domain": ["Hydrogen", "Deuterium"], "range": ["circle", "square"]}, "legend": null}}}
 ]
},
{
 "data": {"name": "d"}, "width": 195, "height": 175,
 "transform": [{"filter": "datum.v === 'z' && datum.h === 'h-'"}],
 "layer": [
  {"transform": [{"filter": "datum.k === 'ref'"}], "mark": {"type": "rule", "color": "#444", "strokeWidth": 1}, "encoding": {"y": {"datum": 0}}},
  {"transform": [{"filter": "datum.k === 'ref'"}], "mark": {"type": "rule", "color": "#999", "strokeWidth": 1}, "encoding": {"y": {"datum": -0.287}}},
  {"transform": [{"filter": "datum.k === 'ref'"}], "mark": {"type": "rule", "color": "black", "strokeWidth": 1, "strokeDash": [5, 3]}, "encoding": {"x": {"datum": 0.75}}},
  {"transform": [{"filter": "datum.k === 'sys'"}], "mark": {"type": "rect"},
   "encoding": {
    "x": {"field": "x", "type": "quantitative", "scale": {"domain": [0.2, 1.0], "nice": false, "zero": false},
      "axis": {"title": "z", "titleX": 186, "titleY": 31, "titleAlign": "right", "titleBaseline": "alphabetic", "titleFontSize": 16.5, "tickCount": 100,
        "values": [0.2,0.25,0.3,0.35,0.4,0.45,0.5,0.55,0.6,0.65,0.7,0.75,0.8,0.85,0.9,0.95,1.0],
        "labelExpr": "(abs(datum.value-0.4)<0.001 || abs(datum.value-0.6)<0.001 || abs(datum.value-0.8)<0.001) ? format(datum.value, '.1f') : ''",
        "tickSize": {"condition": {"test": "abs(datum.value-0.4)<0.001 || abs(datum.value-0.6)<0.001 || abs(datum.value-0.8)<0.001", "value": -8}, "value": -4}, "labelPadding": 12, "labelOverlap": false}},
    "x2": {"field": "x2"},
    "y": {"field": "y", "type": "quantitative", "scale": {"domain": [-0.35, 0.2], "nice": false, "zero": false},
      "axis": {"title": null, "labels": false, "tickCount": 100,
        "values": [-0.34,-0.32,-0.3,-0.28,-0.26,-0.24,-0.22,-0.2,-0.18,-0.16,-0.14,-0.12,-0.1,-0.08,-0.06,-0.04,-0.02,0,0.02,0.04,0.06,0.08,0.1,0.12,0.14,0.16,0.18,0.2],
        "tickSize": {"condition": {"test": "abs(datum.value*10 - round(datum.value*10)) < 0.001", "value": -8}, "value": -4}}},
    "y2": {"field": "y2"},
    "color": {"field": "t", "type": "nominal", "scale": {"domain": ["Hydrogen", "Deuterium"], "range": ["black", "#7878d8"]}, "legend": null}}},
  {"transform": [{"filter": "datum.k === 'pt'"}, {"calculate": "datum.y - datum.e", "as": "lo"}, {"calculate": "datum.y + datum.e", "as": "hi"}],
   "mark": {"type": "rule", "color": "black", "strokeWidth": 1},
   "encoding": {"x": {"field": "x", "type": "quantitative"}, "y": {"field": "lo", "type": "quantitative"}, "y2": {"field": "hi"}}},
  {"transform": [{"filter": "datum.k === 'pt'"}, {"calculate": "datum.y - datum.e", "as": "lo"}, {"calculate": "datum.y + datum.e", "as": "hi"}, {"fold": ["lo", "hi"], "as": ["end", "ev"]}],
   "mark": {"type": "tick", "color": "black", "thickness": 1, "size": 5, "orient": "horizontal"},
   "encoding": {"x": {"field": "x", "type": "quantitative"}, "y": {"field": "ev", "type": "quantitative"}}},
  {"transform": [{"filter": "datum.k === 'pt' && !datum.o"}], "mark": {"type": "point", "filled": true, "size": 85, "opacity": 1},
   "encoding": {"x": {"field": "x", "type": "quantitative"}, "y": {"field": "y", "type": "quantitative"},
    "color": {"field": "t", "type": "nominal", "legend": null},
    "shape": {"field": "t", "type": "nominal", "scale": {"domain": ["Hydrogen", "Deuterium"], "range": ["circle", "square"]}, "legend": null}}},
  {"transform": [{"filter": "datum.k === 'pt' && datum.o"}], "mark": {"type": "point", "filled": false, "fill": "white", "size": 70, "strokeWidth": 1.3, "opacity": 1},
   "encoding": {"x": {"field": "x", "type": "quantitative"}, "y": {"field": "y", "type": "quantitative"},
    "color": {"field": "t", "type": "nominal", "legend": null}, "shape": {"field": "t", "type": "nominal", "legend": null}}}
 ]
},
{
 "data": {"name": "d"}, "width": 193, "height": 175,
 "transform": [{"filter": "datum.v === 'p' && datum.h === 'h-'"}],
 "layer": [
  {"transform": [{"filter": "datum.k === 'ref'"}], "mark": {"type": "rule", "color": "#444", "strokeWidth": 1}, "encoding": {"y": {"datum": 0}}},
  {"transform": [{"filter": "datum.k === 'ref'"}], "mark": {"type": "rule", "color": "#999", "strokeWidth": 1}, "encoding": {"y": {"datum": -0.287}}},
  {"transform": [{"filter": "datum.k === 'sys'"}], "mark": {"type": "rect"},
   "encoding": {
    "x": {"field": "x", "type": "quantitative", "scale": {"domain": [0.043, 0.758], "nice": false, "zero": false},
      "axis": {"title": "Pₕ⊥ [GeV]", "titleX": 193, "titleY": 32, "titleAlign": "right", "titleBaseline": "alphabetic", "titleFontSize": 16.5, "tickCount": 100,
        "values": [0.05,0.1,0.15,0.2,0.25,0.3,0.35,0.4,0.45,0.5,0.55,0.6,0.65,0.7,0.75],
        "labelExpr": "(abs(datum.value-0.2)<0.001 || abs(datum.value-0.4)<0.001 || abs(datum.value-0.6)<0.001) ? format(datum.value, '.1f') : ''",
        "tickSize": {"condition": {"test": "abs(datum.value-0.2)<0.001 || abs(datum.value-0.4)<0.001 || abs(datum.value-0.6)<0.001", "value": -8}, "value": -4}, "labelPadding": 12, "labelOverlap": false}},
    "x2": {"field": "x2"},
    "y": {"field": "y", "type": "quantitative", "scale": {"domain": [-0.35, 0.2], "nice": false, "zero": false},
      "axis": {"title": null, "labels": false, "tickCount": 100,
        "values": [-0.34,-0.32,-0.3,-0.28,-0.26,-0.24,-0.22,-0.2,-0.18,-0.16,-0.14,-0.12,-0.1,-0.08,-0.06,-0.04,-0.02,0,0.02,0.04,0.06,0.08,0.1,0.12,0.14,0.16,0.18,0.2],
        "tickSize": {"condition": {"test": "abs(datum.value*10 - round(datum.value*10)) < 0.001", "value": -8}, "value": -4}}},
    "y2": {"field": "y2"},
    "color": {"field": "t", "type": "nominal", "scale": {"domain": ["Hydrogen", "Deuterium"], "range": ["black", "#7878d8"]}, "legend": null}}},
  {"transform": [{"filter": "datum.k === 'pt'"}, {"calculate": "datum.y - datum.e", "as": "lo"}, {"calculate": "datum.y + datum.e", "as": "hi"}],
   "mark": {"type": "rule", "color": "black", "strokeWidth": 1},
   "encoding": {"x": {"field": "x", "type": "quantitative"}, "y": {"field": "lo", "type": "quantitative"}, "y2": {"field": "hi"}}},
  {"transform": [{"filter": "datum.k === 'pt'"}, {"calculate": "datum.y - datum.e", "as": "lo"}, {"calculate": "datum.y + datum.e", "as": "hi"}, {"fold": ["lo", "hi"], "as": ["end", "ev"]}],
   "mark": {"type": "tick", "color": "black", "thickness": 1, "size": 5, "orient": "horizontal"},
   "encoding": {"x": {"field": "x", "type": "quantitative"}, "y": {"field": "ev", "type": "quantitative"}}},
  {"transform": [{"filter": "datum.k === 'pt'"}], "mark": {"type": "point", "filled": true, "size": 85, "opacity": 1},
   "encoding": {"x": {"field": "x", "type": "quantitative"}, "y": {"field": "y", "type": "quantitative"},
    "color": {"field": "t", "type": "nominal", "legend": null},
    "shape": {"field": "t", "type": "nominal", "scale": {"domain": ["Hydrogen", "Deuterium"], "range": ["circle", "square"]}, "legend": null}}},
  {"transform": [{"filter": "datum.k === 'herm'"}], "mark": {"type": "text", "align": "center", "baseline": "middle", "font": "Liberation Sans", "fontWeight": "bold", "fontSize": 14.5, "color": "#e5382c"},
   "encoding": {"x": {"field": "x", "type": "quantitative"}, "y": {"field": "y", "type": "quantitative"}, "text": {"field": "text"}}}
 ]
}
],
"config": {
 "view": {"stroke": "black", "strokeWidth": 1},
 "font": "Liberation Sans",
 "axis": {"domainColor": "black", "domainWidth": 1, "tickColor": "black", "tickWidth": 1, "labelColor": "black",
   "labelFont": "Liberation Sans", "labelFontWeight": "bold", "labelFontSize": 12.5,
   "titleFont": "Liberation Sans", "titleFontWeight": "bold", "titleColor": "black",
   "grid": false, "labelFlush": false, "labelOverlap": false}
}
}
